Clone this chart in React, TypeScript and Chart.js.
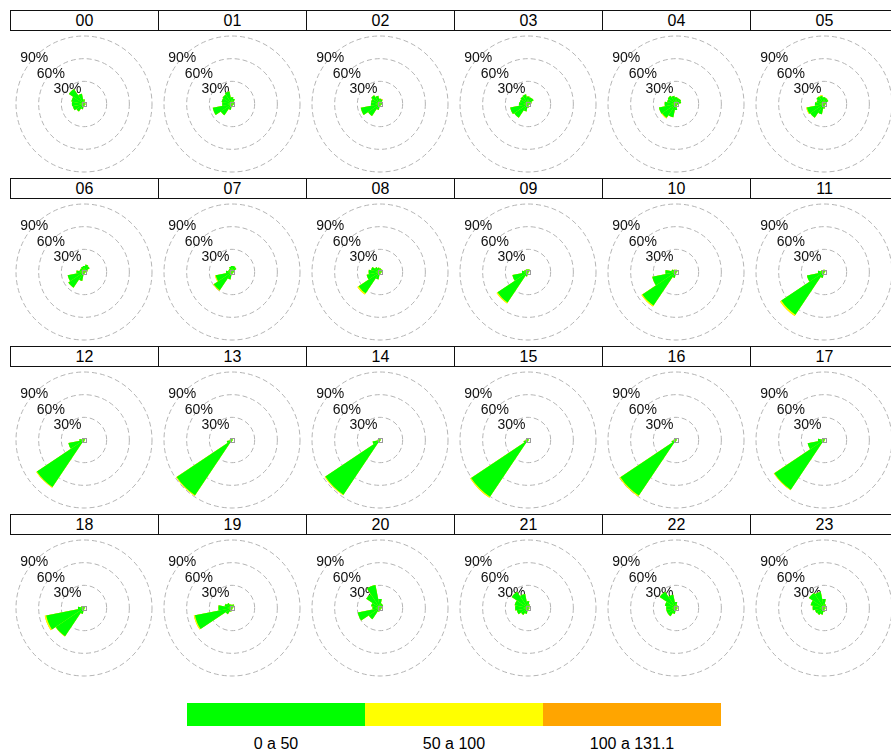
import React, { useEffect, useRef } from "react";
import { Chart, registerables } from "chart.js";

Chart.register(...registerables);

// ---------- data ----------
const HOURS = ["00","01","02","03","04","05","06","07","08","09","10","11","12","13","14","15","16","17","18","19","20","21","22","23"];
const DIRECTIONS = ["N","NNE","NE","ENE","E","ESE","SE","SSE","S","SSW","SW","WSW","W","WNW","NW","NNW"];
const RING_TICKS = [30, 60, 90];
const RING_LABELS = ["30%", "60%", "90%"];
const LEGEND_LABELS = ["0 a 50", "50 a 100", "100 a 131.1"];
const LEGEND_COLORS = ["#00FF00", "#FFFF00", "#FFA500"];

// percentage of each hour's observations per direction, interval 0 a 50
const green00 = [6, 3, 2, 2, 2, 2, 2, 2, 3, 7, 12, 15, 16, 17, 24, 14];
const green01 = [9, 7, 4, 3, 3, 2, 2, 2, 3, 8, 18, 26, 13, 14, 15, 17];
const green02 = [7, 6, 4, 3, 3, 2, 2, 2, 3, 8, 19, 26, 12, 12, 14, 11];
const green03 = [10, 9, 9, 5, 3, 2, 2, 2, 5, 10, 22, 24, 12, 11, 12, 13];
const green04 = [9, 8, 8, 7, 3, 2, 2, 3, 8, 18, 22, 23, 15, 12, 13, 11];
const green05 = [9, 8, 7, 4, 2, 2, 2, 3, 6, 14, 22, 23, 12, 10, 12, 11];
const green06 = [8, 10, 9, 5, 2, 2, 2, 2, 4, 12, 25, 22, 10, 6, 6, 7];
const green07 = [8, 8, 7, 4, 2, 2, 2, 2, 4, 10, 29, 22, 8, 5, 5, 7];
const green08 = [5, 4, 4, 3, 2, 2, 2, 2, 4, 10, 34, 18, 15, 12, 8, 6];
const green09 = [3, 4, 3, 2, 1, 1, 1, 1, 2, 6, 48.5, 21, 8, 5, 4, 4];
const green10 = [3, 3, 3, 2, 1, 1, 1, 1, 2, 8, 53.5, 32, 14, 6, 4, 3];
const green11 = [3, 3, 2, 2, 1, 1, 1, 1, 2, 8, 68, 23, 8, 4, 3, 3];
const green12 = [2, 2, 2, 1, 1, 1, 1, 1, 2, 4, 75, 21, 6, 3, 2, 2];
const green13 = [2, 2, 1, 1, 1, 1, 1, 1, 1, 3, 88, 7, 3, 2, 2, 2];
const green14 = [2, 2, 1, 1, 1, 1, 1, 1, 1, 3, 87, 10, 3, 2, 2, 2];
const green15 = [2, 2, 1, 1, 1, 1, 1, 1, 1, 3, 90.5, 6, 3, 2, 2, 2];
const green16 = [2, 2, 1, 1, 1, 1, 1, 1, 1, 3, 88.5, 6, 3, 2, 2, 2];
const green17 = [2, 2, 2, 1, 1, 1, 1, 1, 2, 4, 79, 22, 8, 3, 2, 2];
const green18 = [2, 2, 2, 1, 1, 1, 1, 1, 2, 8, 45, 51, 8, 4, 3, 2];
const green19 = [4, 5, 4, 2, 1, 1, 1, 1, 2, 5, 10, 50, 18, 10, 8, 5];
const green20 = [12, 6, 5, 3, 2, 2, 2, 2, 3, 5, 18, 30, 10, 12, 22, 31];
const green21 = [9, 5, 3, 2, 2, 2, 2, 2, 4, 8, 11, 15, 17, 18, 26, 19];
const green22 = [8, 4, 3, 2, 2, 2, 2, 2, 4, 8, 13, 13, 13, 15, 26, 18];
const green23 = [12, 5, 3, 2, 2, 2, 2, 2, 5, 9, 11, 12, 15, 18, 24, 22];

// interval 50 a 100
const yellow00 = [0, 0, 0, 0, 0, 0, 0, 0, 0, 0, 0, 0, 0, 0, 0, 0];
const yellow01 = [0, 0, 0, 0, 0, 0, 0, 0, 0, 0, 0, 0, 0, 0, 0, 0];
const yellow02 = [0, 0, 0, 0, 0, 0, 0, 0, 0, 0, 0, 0, 0, 0, 0, 0];
const yellow03 = [0, 0, 0, 0, 0, 0, 0, 0, 0, 0, 0, 0, 0, 0, 0, 0];
const yellow04 = [0, 0, 0, 0, 0, 0, 0, 0, 0, 0, 1, 0, 0, 0, 0, 0];
const yellow05 = [0, 0, 0, 0, 0, 0, 0, 0, 0, 0, 0, 1, 0, 0, 0, 1];
const yellow06 = [0, 0, 0, 0, 0, 0, 0, 0, 0, 0, 0, 0, 0, 0, 0, 0];
const yellow07 = [0, 0, 0, 0, 0, 0, 0, 0, 0, 0, 1, 1, 0, 0, 0, 0];
const yellow08 = [0, 0, 0, 0, 0, 0, 0, 0, 0, 0, 2, 0, 0, 0, 0, 0];
const yellow09 = [0, 0, 0, 0, 0, 0, 0, 0, 0, 0, 1.5, 0, 0, 0, 0, 0];
const yellow10 = [0, 0, 0, 0, 0, 0, 0, 0, 0, 0, 1.5, 0, 0, 0, 0, 0];
const yellow11 = [0, 0, 0, 0, 0, 0, 0, 0, 0, 0, 2, 0, 0, 0, 0, 0];
const yellow12 = [0, 0, 0, 0, 0, 0, 0, 0, 0, 0, 1, 0, 0, 0, 0, 0];
const yellow13 = [0, 0, 0, 0, 0, 0, 0, 0, 0, 0, 1, 0, 0, 0, 0, 0];
const yellow14 = [0, 0, 0, 0, 0, 0, 0, 0, 0, 0, 1, 0, 0, 0, 0, 0];
const yellow15 = [0, 0, 0, 0, 0, 0, 0, 0, 0, 0, 1.5, 0, 0, 0, 0, 0];
const yellow16 = [0, 0, 0, 0, 0, 0, 0, 0, 0, 0, 1.5, 0, 0, 0, 0, 0];
const yellow17 = [0, 0, 0, 0, 0, 0, 0, 0, 0, 0, 1, 0, 0, 0, 0, 0];
const yellow18 = [0, 0, 0, 0, 0, 0, 0, 0, 0, 0, 0.5, 2, 0, 0, 0, 0];
const yellow19 = [0, 0, 0, 0, 0, 0, 0, 0, 0, 0, 0, 1.5, 0, 0, 0, 0];
const yellow20 = [0, 0, 0, 0, 0, 0, 0, 0, 0, 0, 0, 0, 0, 0, 0, 0];
const yellow21 = [0, 0, 0, 0, 0, 0, 0, 0, 0, 0, 0, 0, 0, 0, 0, 0];
const yellow22 = [0, 0, 0, 0, 0, 0, 0, 0, 0, 0, 0, 0, 0, 0, 0, 0];
const yellow23 = [0, 0, 0, 0, 0, 0, 0, 0, 0, 0, 0, 0, 0, 0, 0, 0];

// interval 100 a 131.1
const orange02 = [0, 1, 0, 0, 0, 0, 0, 0, 0, 0, 0, 0, 0, 0, 0, 0];
const orangeNone = [0, 0, 0, 0, 0, 0, 0, 0, 0, 0, 0, 0, 0, 0, 0, 0];

const GREEN = [green00, green01, green02, green03, green04, green05, green06, green07, green08, green09, green10, green11, green12, green13, green14, green15, green16, green17, green18, green19, green20, green21, green22, green23];
const YELLOW = [yellow00, yellow01, yellow02, yellow03, yellow04, yellow05, yellow06, yellow07, yellow08, yellow09, yellow10, yellow11, yellow12, yellow13, yellow14, yellow15, yellow16, yellow17, yellow18, yellow19, yellow20, yellow21, yellow22, yellow23];
const ORANGE = HOURS.map((h) => (h === "02" ? orange02 : orangeNone));

// ---------- layout constants ----------
const FONT = "'Liberation Sans', Arial, Helvetica, sans-serif";
const PANEL_W = 148;
const ROW_H = 168;
const LEFT0 = 10;
const TOP0 = 10;
const STRIP_H = 21;
const COLS = 6;
const LABEL_ANGLE = 313; // compass angle where the ring labels sit

const ringPlugin = {
  id: "ringLabels",
  beforeDatasetsDraw(chart: any) {
    const s = chart.scales.r;
    const ctx = chart.ctx;
    ctx.save();
    ctx.font = `14px ${FONT}`;
    ctx.fillStyle = "#111";
    ctx.textAlign = "center";
    ctx.textBaseline = "middle";
    const a = (LABEL_ANGLE * Math.PI) / 180;
    RING_TICKS.forEach((v, i) => {
      const d = s.getDistanceFromCenterForValue(v);
      ctx.fillText(RING_LABELS[i], s.xCenter + Math.sin(a) * d, s.yCenter - Math.cos(a) * d + 1);
    });
    ctx.restore();
  },
  afterDatasetsDraw(chart: any) {
    const s = chart.scales.r;
    const ctx = chart.ctx;
    ctx.save();
    ctx.strokeStyle = "#9a9a9a";
    ctx.lineWidth = 1;
    ctx.strokeRect(s.xCenter - 1.5, s.yCenter - 1.5, 4, 4);
    ctx.restore();
  },
};

function cumulative(a: number[], b: number[]) {
  return a.map((v, i) => v + b[i]);
}

export default function App() {
  const refs = useRef<(HTMLCanvasElement | null)[]>([]);

  useEffect(() => {
    const charts: Chart[] = [];
    HOURS.forEach((h, idx) => {
      const cv = refs.current[idx];
      if (!cv) return;
      const g = GREEN[idx];
      const gy = cumulative(g, YELLOW[idx]);
      const gyo = cumulative(gy, ORANGE[idx]);
      const chart = new Chart(cv, {
        type: "polarArea",
        data: {
          labels: DIRECTIONS,
          datasets: [
            { label: LEGEND_LABELS[0], data: g, backgroundColor: LEGEND_COLORS[0], borderWidth: 0 },
            { label: LEGEND_LABELS[1], data: gy, backgroundColor: LEGEND_COLORS[1], borderWidth: 0 },
            { label: LEGEND_LABELS[2], data: gyo, backgroundColor: LEGEND_COLORS[2], borderWidth: 0 },
          ],
        },
        options: {
          animation: false,
          responsive: false,
          maintainAspectRatio: false,
          layout: { padding: { left: 6, right: 5, top: 5, bottom: 5 } },
          plugins: { legend: { display: false }, tooltip: { enabled: false } },
          elements: { arc: { borderWidth: 0 } },
          scales: {
            r: {
              min: 0,
              max: 90,
              startAngle: -11.25,
              ticks: { display: false, stepSize: 30 },
              grid: { color: "#b4b4b4", lineWidth: 1, circular: true },
              border: { dash: [5, 3] },
              angleLines: { display: false },
              pointLabels: { display: false },
            },
          },
        },
        plugins: [ringPlugin],
      } as any);
      charts.push(chart);
    });
    return () => charts.forEach((c) => c.destroy());
  }, []);

  return (
    <div
      style={{
        position: "absolute",
        left: 0,
        top: 0,
        width: 891,
        height: 752,
        overflow: "hidden",
        background: "#fff",
        fontFamily: FONT,
      }}
    >
      {HOURS.map((h, idx) => {
        const c = idx % COLS;
        const r = Math.floor(idx / COLS);
        const left = LEFT0 + c * PANEL_W;
        const top = TOP0 + r * ROW_H;
        return (
          <React.Fragment key={h}>
            <div
              style={{
                position: "absolute",
                left,
                top,
                width: PANEL_W + 1,
                height: STRIP_H,
                boxSizing: "border-box",
                border: "1px solid #111",
                fontSize: 16,
                lineHeight: `${STRIP_H - 2}px`,
                textAlign: "center",
                color: "#000",
              }}
            >
              {h}
            </div>
            <canvas
              ref={(el) => (refs.current[idx] = el)}
              width={PANEL_W}
              height={ROW_H - STRIP_H}
              style={{ position: "absolute", left, top: top + STRIP_H, width: PANEL_W, height: ROW_H - STRIP_H }}
            />
          </React.Fragment>
        );
      })}
      {LEGEND_LABELS.map((lab, i) => (
        <React.Fragment key={lab}>
          <div
            style={{
              position: "absolute",
              left: 187 + i * 178,
              top: 703,
              width: 178,
              height: 23,
              background: LEGEND_COLORS[i],
            }}
          />
          <div
            style={{
              position: "absolute",
              left: 187 + i * 178,
              top: 735,
              width: 178,
              fontSize: 16,
              lineHeight: "18px",
              textAlign: "center",
              color: "#000",
            }}
          >
            {lab}
          </div>
        </React.Fragment>
      ))}
    </div>
  );
}
